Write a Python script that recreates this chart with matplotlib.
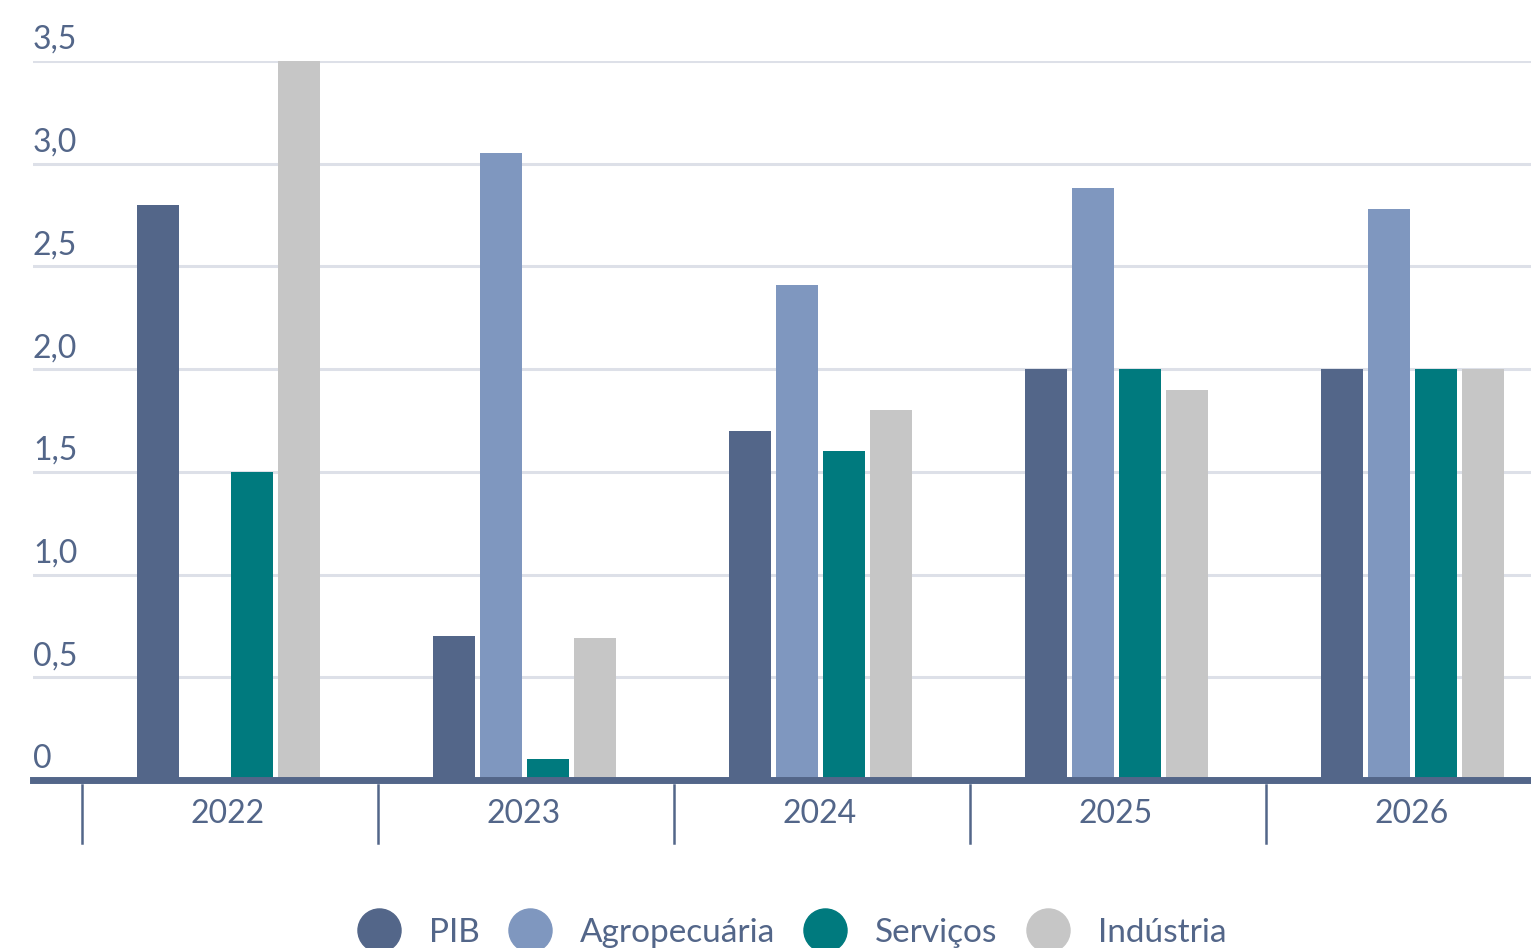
import matplotlib.pyplot as plt
import numpy as np
from matplotlib.lines import Line2D

# data
years = ['2022', '2023', '2024', '2025', '2026']
series = ['PIB', 'Agropecuária', 'Serviços', 'Indústria']
pib = [2.8, 0.7, 1.7, 2.0, 2.0]
agro = [0.0, 3.05, 2.41, 2.88, 2.78]
servicos = [1.5, 0.1, 1.6, 2.0, 2.0]
industria = [3.5, 0.69, 1.8, 1.9, 2.0]
yticks = [0, 0.5, 1.0, 1.5, 2.0, 2.5, 3.0, 3.5]
ytick_labels = ['0', '0,5', '1,0', '1,5', '2,0', '2,5', '3,0', '3,5']

colors = ['#536689', '#7f97bf', '#007a7e', '#c6c6c6']
txt = '#536689'
plt.rcParams['font.family'] = ['Lato', 'DejaVu Sans']

fig = plt.figure(figsize=(15.31, 9.48), dpi=100)
ax = fig.add_axes([33/1531, 1-780/948, (1531-33)/1531, (780-61)/948])

x = np.arange(len(years))
step = 47/296
width = 42/296
for k, vals in enumerate([pib, agro, servicos, industria]):
    ax.bar(x + (k-1.5)*step, vals, width, color=colors[k], zorder=3)

ax.set_xlim(-0.659, 4.402)
ax.set_ylim(0, 3.5)
for s in ax.spines.values():
    s.set_visible(False)
ax.set_xticks([])
ax.set_yticks([])
for yv in yticks[1:]:
    ax.axhline(yv, color='#dde0e8', lw=2.2, zorder=1)
ax.axhline(0, color=txt, lw=5, zorder=4, clip_on=False)

for yv, lab in zip(yticks, ytick_labels):
    ax.annotate(lab, (0, yv), xycoords=('axes fraction', 'data'),
                xytext=(0, 6), textcoords='offset pixels',
                ha='left', va='bottom', fontsize=23, color=txt)

tr = ax.get_xaxis_transform()
for i, yr in enumerate(years):
    xs = i - 0.5 + 2/296
    ax.plot([xs, xs], [-5/719, -63/719], color=txt, lw=1.8,
            transform=tr, clip_on=False)
    ax.text(i, -34/719, yr, transform=tr, ha='center', va='center',
            fontsize=23, color=txt)

handles = [Line2D([], [], marker='o', ls='', markersize=31, color=c) for c in colors]
leg = fig.legend(handles, series, loc='center', bbox_to_anchor=(786/1531, 1-933/948),
                 ncol=4, frameon=False, fontsize=24, handletextpad=0.5,
                 columnspacing=0.5, labelcolor=txt)

fig.savefig('out.png', dpi=100)
